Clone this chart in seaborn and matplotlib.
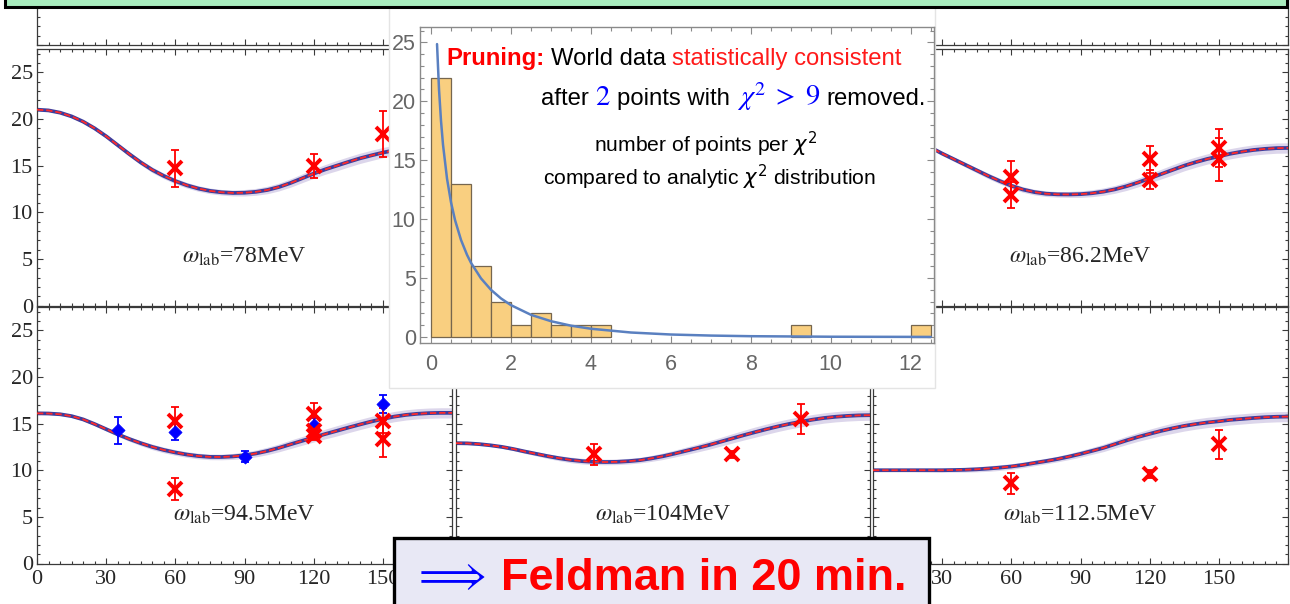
import numpy as np
import pandas as pd
import matplotlib
matplotlib.use("Agg")
import matplotlib.pyplot as plt
import seaborn as sns
from matplotlib.patches import Rectangle
from matplotlib.ticker import MultipleLocator
from matplotlib.transforms import IdentityTransform

# ---------------- data ----------------
angles = [0, 5, 10, 15, 20, 25, 30, 35, 40, 45, 50, 55, 60, 65, 70, 75, 80, 85, 90,
          95, 100, 105, 110, 115, 120, 125, 130, 135, 140, 145, 150, 155, 160, 165, 170, 175, 180]
curve_78 = [21.0, 20.92, 20.68, 20.28, 19.72, 19.0, 18.15, 17.2, 16.25, 15.35, 14.55, 13.9, 13.35,
            12.9, 12.55, 12.3, 12.15, 12.08, 12.1, 12.2, 12.4, 12.72, 13.15, 13.65, 14.15, 14.6,
            15.0, 15.4, 15.78, 16.1, 16.4, 16.65, 16.87, 17.05, 17.18, 17.26, 17.3]
curve_862 = [18.8, 18.75, 18.55, 18.15, 17.6, 16.95, 16.3, 15.7, 15.1, 14.5, 13.9, 13.35, 12.85,
             12.45, 12.17, 12.0, 11.93, 11.92, 11.95, 12.05, 12.22, 12.47, 12.8, 13.2, 13.65, 14.1,
             14.55, 15.0, 15.38, 15.72, 16.0, 16.28, 16.5, 16.68, 16.8, 16.88, 16.9]
curve_945 = [16.1, 16.08, 16.0, 15.8, 15.45, 14.95, 14.4, 13.85, 13.35, 12.9, 12.5, 12.17, 11.9,
             11.68, 11.52, 11.43, 11.42, 11.48, 11.6, 11.8, 12.07, 12.4, 12.78, 13.15, 13.52, 13.88,
             14.22, 14.57, 14.9, 15.22, 15.5, 15.75, 15.93, 16.05, 16.12, 16.15, 16.15]
curve_104 = [12.9, 12.88, 12.8, 12.67, 12.5, 12.27, 12.0, 11.75, 11.5, 11.28, 11.1, 10.97, 10.9,
             10.88, 10.9, 10.97, 11.08, 11.27, 11.5, 11.78, 12.08, 12.38, 12.7, 13.05, 13.4, 13.75,
             14.08, 14.4, 14.7, 14.97, 15.2, 15.42, 15.6, 15.73, 15.82, 15.88, 15.9]
curve_1125 = [10.0, 10.0, 10.0, 10.0, 10.0, 10.0, 10.0, 10.02, 10.05, 10.1, 10.18, 10.28, 10.4,
              10.57, 10.78, 10.98, 11.2, 11.46, 11.75, 12.07, 12.4, 12.8, 13.2, 13.57, 13.9, 14.22,
              14.5, 14.75, 14.95, 15.12, 15.25, 15.4, 15.5, 15.6, 15.68, 15.73, 15.75]
band_halfwidth = [0.1, 0.1, 0.1, 0.12, 0.15, 0.17, 0.2, 0.22, 0.25, 0.27, 0.3, 0.3, 0.3, 0.3,
                  0.3, 0.3, 0.3, 0.32, 0.35, 0.37, 0.4, 0.42, 0.45, 0.47, 0.5, 0.52, 0.55, 0.55,
                  0.55, 0.55, 0.55, 0.55, 0.55, 0.55, 0.55, 0.55, 0.55]

red_78_theta = [60, 120, 150]
red_78_y = [14.7, 15.0, 18.4]
red_78_err = [2.0, 1.3, 2.45]

red_862_theta = [60, 60, 120, 120, 150, 150]
red_862_y = [13.8, 11.9, 15.7, 13.5, 16.9, 15.7]
red_862_err = [1.7, 1.4, 1.45, 1.0, 2.0, 2.3]

red_945_theta = [60, 60, 120, 120, 120, 150, 150]
red_945_y = [15.3, 8.0, 16.0, 14.25, 13.7, 15.3, 13.4]
red_945_err = [1.45, 1.2, 1.2, 0.6, 0.5, 1.35, 2.0]
blue_945_theta = [35, 60, 90, 120, 150]
blue_945_y = [14.3, 14.1, 11.45, 14.9, 17.1]
blue_945_err = [1.45, 0.9, 0.6, 0.7, 1.0]

red_104_theta = [60, 120, 150]
red_104_y = [11.7, 11.7, 15.5]
red_104_err = [1.1, 0.4, 1.65]

red_1125_theta = [60, 120, 150]
red_1125_y = [8.6, 9.6, 12.8]
red_1125_err = [1.1, 0.4, 1.55]

energy_labels = ["78MeV", "86.2MeV", "94.5MeV", "104MeV", "112.5MeV"]
x_tick_vals = [0, 30, 60, 90, 120, 150, 180]
x_tick_text = ["0", "30", "60", "90", "120", "150", ""]
x_tick_text_right = ["", "30", "60", "90", "120", "150", ""]

hist_bin_left = [0.0, 0.5, 1.0, 1.5, 2.0, 2.5, 3.0, 3.5, 4.0, 9.0, 12.0]
hist_counts = [22, 13, 6, 3, 1, 2, 1, 1, 1, 1, 1]
chi_x = [0.15, 0.2, 0.25, 0.3, 0.4, 0.5, 0.6, 0.75, 0.9, 1.0, 1.25, 1.5, 1.75, 2.0,
         2.5, 3.0, 3.5, 4.0, 5.0, 6.0, 7.0, 8.0, 10.0, 12.5]
chi_y = [24.85, 20.98, 18.31, 16.30, 13.43, 11.42, 9.92, 8.23, 6.97, 6.29, 4.97, 4.00, 3.27, 2.70,
         1.88, 1.34, 0.96, 0.70, 0.38, 0.21, 0.12, 0.067, 0.022, 0.006]

# ---------------- figure ----------------
sns.set_theme(style="white")
plt.rcParams["font.family"] = ["Liberation Serif", "DejaVu Serif"]
plt.rcParams["mathtext.fontset"] = "stix"

W, H = 1290, 604
fig = plt.figure(figsize=(W / 100, H / 100), dpi=100)
fig.patch.set_facecolor("white")


def px_axes(x0, y0, x1, y1, **kw):
    return fig.add_axes([x0 / W, 1 - y1 / H, (x1 - x0) / W, (y1 - y0) / H], **kw)


def px_rect(x0, y0, x1, y1, **kw):
    r = Rectangle((x0 / W, 1 - y1 / H), (x1 - x0) / W, (y1 - y0) / H,
                  transform=fig.transFigure, **kw)
    fig.add_artist(r)
    return r


FRAME = "#3a3a3a"


def style_panel(ax, left_labels, bottom_labels, xlabels=x_tick_text):
    ax.set_xlim(0, 180)
    ax.set_ylim(0, 27.5)
    ax.set_facecolor("white")
    ax.set_xticks(x_tick_vals, xlabels)
    ax.xaxis.set_minor_locator(MultipleLocator(5))
    ax.yaxis.set_major_locator(MultipleLocator(5))
    ax.yaxis.set_minor_locator(MultipleLocator(1))
    ax.tick_params(which="both", direction="in", top=True, right=True, bottom=True, left=True,
                   color=FRAME, width=0.8)
    ax.tick_params(which="major", length=4.5)
    ax.tick_params(which="minor", length=2.5)
    ax.tick_params(axis="y", labelleft=left_labels, labelsize=16, pad=3)
    ax.tick_params(axis="x", labelbottom=bottom_labels, labelsize=16, pad=5)
    for sp in ax.spines.values():
        sp.set_color(FRAME)
        sp.set_linewidth(0.9)
        sp.set_visible(True)
    ax.set_xlabel("")
    ax.set_ylabel("")


def draw_theory(ax, curve):
    lo = [c - b for c, b in zip(curve, band_halfwidth)]
    hi = [c + b for c, b in zip(curve, band_halfwidth)]
    ax.fill_between(angles, lo, hi, color="#d4cce6", alpha=0.8, lw=0, zorder=1)
    sns.lineplot(x=angles, y=curve, ax=ax, color="#3d3d9c", linewidth=2.7, zorder=2)
    sns.lineplot(x=angles, y=curve, ax=ax, color="#ff2a2a", linewidth=1.3,
                 linestyle=(0, (3.5, 1.6)), zorder=3)


def draw_red(ax, th, y, err):
    ax.errorbar(th, y, yerr=err, fmt="none", ecolor="#ff0000", elinewidth=1.3,
                capsize=3, capthick=1.3, zorder=4)
    ax.plot(th, y, linestyle="none", marker="x", ms=9.5, mew=2.8, color="#ff0000", zorder=5)


def draw_blue(ax, th, y, err):
    ax.errorbar(th, y, yerr=err, fmt="none", ecolor="#0000ff", elinewidth=1.3,
                capsize=3, capthick=1.3, zorder=4)
    sns.scatterplot(x=th, y=y, ax=ax, marker="D", s=45, color="#0000ff", edgecolor="#0000ff",
                    linewidth=0.5, zorder=5)


def energy_label(ax, txt):
    ax.text(90, 5.25, r"$\omega_{\rm lab}$=" + txt, ha="center", va="center",
            fontsize=17, family="Liberation Serif", math_fontfamily="stix", zorder=6)


cols = [(37, 452), (456, 870), (873, 1288)]
rows = [(45 - 256.6, 45), (49, 305.7), (307, 563.5)]

# row 0 (only the bottom strip shows)
for ci in (0, 1, 2):
    ax = px_axes(cols[ci][0], rows[0][0], cols[ci][1], rows[0][1])
    style_panel(ax, False, False)

# row 1
ax = px_axes(cols[0][0], rows[1][0], cols[0][1], rows[1][1])
style_panel(ax, True, False)
draw_theory(ax, curve_78)
draw_red(ax, red_78_theta, red_78_y, red_78_err)
energy_label(ax, energy_labels[0])

ax = px_axes(cols[1][0], rows[1][0], cols[1][1], rows[1][1])
style_panel(ax, False, False)

ax = px_axes(cols[2][0], rows[1][0], cols[2][1], rows[1][1])
style_panel(ax, False, False)
draw_theory(ax, curve_862)
draw_red(ax, red_862_theta, red_862_y, red_862_err)
energy_label(ax, energy_labels[1])

# row 2
ax = px_axes(cols[0][0], rows[2][0], cols[0][1], rows[2][1])
style_panel(ax, True, True)
draw_theory(ax, curve_945)
draw_blue(ax, blue_945_theta, blue_945_y, blue_945_err)
draw_red(ax, red_945_theta, red_945_y, red_945_err)
energy_label(ax, energy_labels[2])

ax = px_axes(cols[1][0], rows[2][0], cols[1][1], rows[2][1])
style_panel(ax, False, False)
draw_theory(ax, curve_104)
draw_red(ax, red_104_theta, red_104_y, red_104_err)
energy_label(ax, energy_labels[3])

ax = px_axes(cols[2][0], rows[2][0], cols[2][1], rows[2][1])
style_panel(ax, False, True, x_tick_text_right)
draw_theory(ax, curve_1125)
draw_red(ax, red_1125_theta, red_1125_y, red_1125_err)
energy_label(ax, energy_labels[4])

# ---------------- inset ----------------
px_rect(389, -10, 935, 388, facecolor="white", edgecolor="#e4e4e4", lw=1.0, zorder=1)

axi = px_axes(420, 27, 934, 343, zorder=2)
axi.set_facecolor("white")
sns.histplot(x=[b + 0.25 for b in hist_bin_left], weights=hist_counts, binwidth=0.5,
             binrange=(0, 12.5), ax=axi, color="#f9cf80", edgecolor="#76664e",
             linewidth=0.9, alpha=1.0, zorder=2)
for p in axi.patches:
    if p.get_height() == 0:
        p.set_visible(False)
sns.lineplot(x=chi_x, y=chi_y, ax=axi, color="#5a80c0", linewidth=1.8, zorder=3)
axi.set_xlim(-0.276, 12.58)
axi.set_ylim(-0.51, 26.3)
axi.set_xlabel("")
axi.set_ylabel("")
axi.xaxis.set_major_locator(MultipleLocator(2))
axi.xaxis.set_minor_locator(MultipleLocator(0.5))
axi.yaxis.set_major_locator(MultipleLocator(5))
axi.yaxis.set_minor_locator(MultipleLocator(1))
axi.tick_params(which="both", direction="in", top=True, right=True, bottom=True, left=True,
                color="#8a8a8a", width=0.8)
axi.tick_params(which="major", length=5)
axi.tick_params(which="minor", length=2.8)
axi.tick_params(labelsize=15.5, labelcolor="#666666", pad=3)
for lab in axi.get_xticklabels() + axi.get_yticklabels():
    lab.set_family("Liberation Sans")
axi.tick_params(axis="x", pad=8)
for sp in axi.spines.values():
    sp.set_color("#8a8a8a")
    sp.set_linewidth(1.0)
    sp.set_visible(True)

renderer = fig.canvas.get_renderer()


def text_pieces(x_px, ybase_px, pieces, ha="left", zorder=4):
    arts, gaps = [], []
    for s, kw, gap in pieces:
        t = fig.text(0, 0, s, transform=IdentityTransform(), ha="left", va="baseline",
                     zorder=zorder, **kw)
        arts.append(t)
        gaps.append(gap)
    widths = [t.get_window_extent(renderer).width for t in arts]
    total = sum(widths) + sum(gaps)
    if ha == "right":
        x = x_px - total
    elif ha == "center":
        x = x_px - total / 2
    else:
        x = x_px
    for t, w, g in zip(arts, widths, gaps):
        t.set_position((x, H - ybase_px))
        x += w + g


SANS = "Liberation Sans"
fs1 = 17.2
text_pieces(446, 65, [
    ("Pruning:", dict(family=SANS, fontsize=fs1, fontweight="bold", color="#ff0000"), 6.5),
    ("World data", dict(family=SANS, fontsize=fs1, color="black"), 6.5),
    ("statistically consistent", dict(family=SANS, fontsize=fs1, color="#ff1a1a"), 0),
])
text_pieces(926, 105, [
    ("after", dict(family=SANS, fontsize=fs1, color="black"), 6.5),
    (r"$2$", dict(fontsize=20.5, color="#0000ff", math_fontfamily="stix"), 6.5),
    ("points with", dict(family=SANS, fontsize=fs1, color="black"), 6.5),
    (r"$\chi^2\;>\;9$", dict(fontsize=20.5, color="#0000ff", math_fontfamily="stix"), 6.5),
    ("removed.", dict(family=SANS, fontsize=fs1, color="black"), 0),
], ha="right")
fs3 = 15.2
text_pieces(706, 152, [
    (r"number of points per $\chi^2$", dict(family=SANS, fontsize=fs3, color="black",
                                            math_fontfamily="dejavusans"), 0),
], ha="center")
text_pieces(709, 185, [
    (r"compared to analytic $\chi^2$ distribution", dict(family=SANS, fontsize=fs3, color="black",
                                                        math_fontfamily="dejavusans"), 0),
], ha="center")

# ---------------- boxes ----------------
px_rect(5, -20, 1287, 7, facecolor="#a8ecbe", edgecolor="black", lw=2.2, zorder=8)
px_rect(394, 538, 929, 640, facecolor="#e8e8f5", edgecolor="black", lw=2.4, zorder=8)
text_pieces(412, 588, [
    (r"$\Longrightarrow$", dict(fontsize=31, color="#0000ff", math_fontfamily="stix"), 0),
], zorder=9)
text_pieces(501, 590, [
    ("Feldman in 20 min.", dict(family=SANS, fontsize=32.5, fontweight="bold", color="#ff0000"), 0),
], zorder=9)

fig.savefig("out.png", dpi=100, facecolor="white")
